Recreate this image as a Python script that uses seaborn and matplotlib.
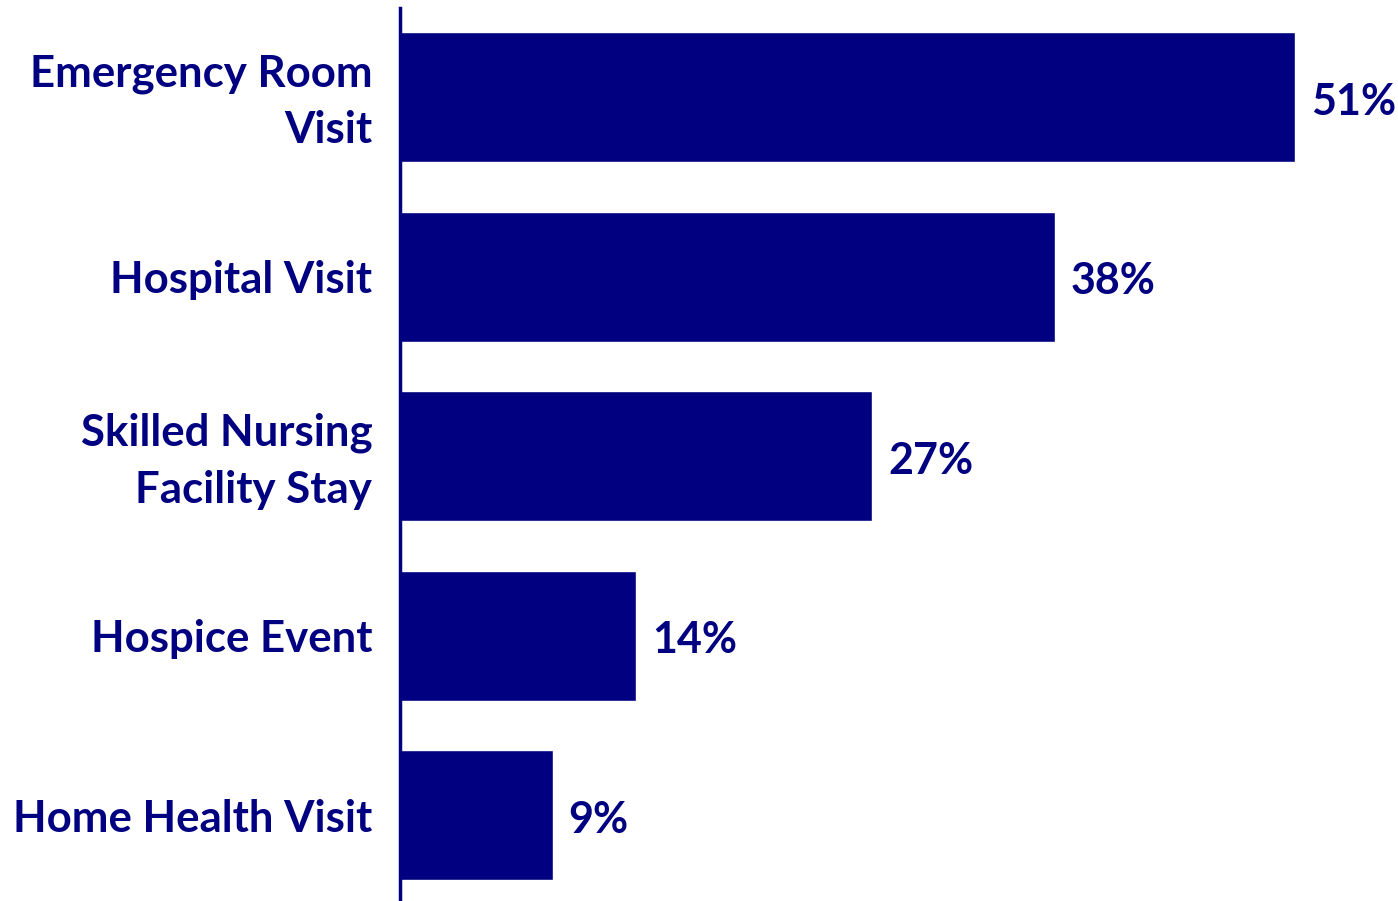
import matplotlib
matplotlib.use("Agg")
import matplotlib.pyplot as plt
import matplotlib.transforms as mtransforms
import seaborn as sns
import pandas as pd

categories = ["Emergency Room\nVisit", "Hospital Visit", "Skilled Nursing\nFacility Stay",
              "Hospice Event", "Home Health Visit"]
values = [51.35, 37.6, 27.1, 13.55, 8.75]
value_labels = ["51%", "38%", "27%", "14%", "9%"]

NAVY = "#000080"

sns.set_theme(style="white")
plt.rcParams["font.family"] = ["Lato", "DejaVu Sans"]

df = pd.DataFrame({"category": categories, "value": values})

fig = plt.figure(figsize=(13.98, 9.01), dpi=100)
ax = fig.add_axes([400 / 1398, -4 / 901, 998 / 1398, 897.5 / 901])

sns.barplot(data=df, x="value", y="category", orient="h", color=NAVY,
            saturation=1, width=0.727, ax=ax)

ax.set_xlim(0, 998 / 17.43)
ax.set_ylim(4.5, -0.5)
for i, (v, lab) in enumerate(zip(values, value_labels)):
    ax.text(v + 0.9, i + 0.025, lab, va="center", ha="left", color=NAVY,
            fontsize=31, fontweight="bold")

ax.set_xlabel("")
ax.set_ylabel("")
ax.set_xticks([])
ax.tick_params(axis="y", length=0, pad=20)
shift = mtransforms.ScaledTranslation(0, 7 / 100, fig.dpi_scale_trans)
for t in ax.get_yticklabels():
    t.set_color(NAVY)
    t.set_fontsize(31.5)
    t.set_fontweight("bold")
    t.set_linespacing(1.5)
    t.set_verticalalignment("center_baseline")
    if "\n" in t.get_text():
        t.set_transform(t.get_transform() + shift)
for s in ["top", "right", "bottom"]:
    ax.spines[s].set_visible(False)
ax.spines["left"].set_color(NAVY)
ax.spines["left"].set_linewidth(2.5)

fig.savefig("out.png", dpi=100, facecolor="white")
